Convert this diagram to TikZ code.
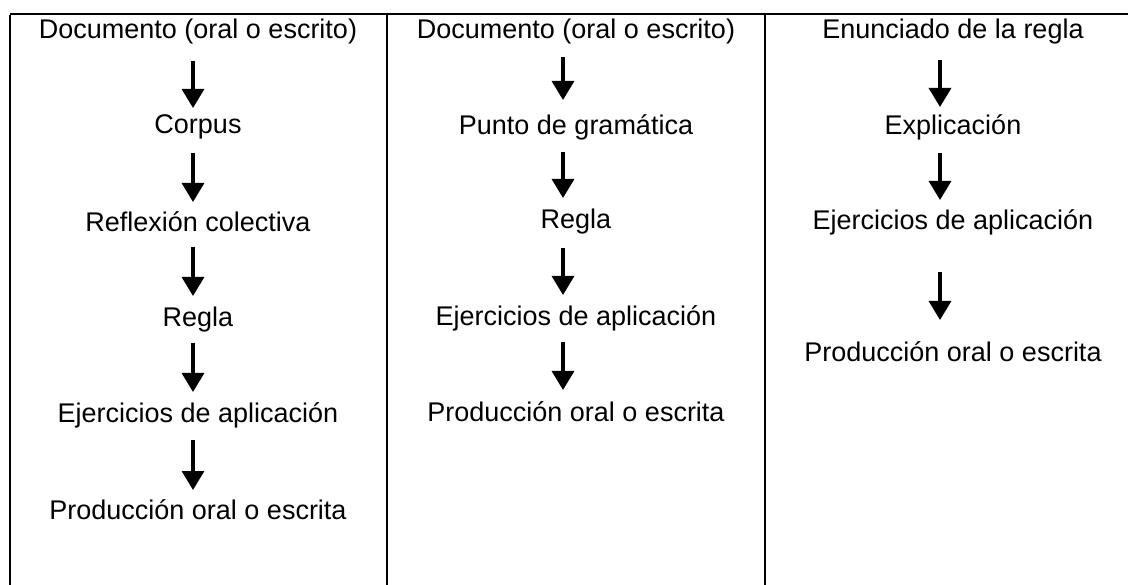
\documentclass[tikz,border=0pt]{standalone}
\usepackage{fontspec}
\setmainfont{Liberation Sans}
\usetikzlibrary{arrows.meta,calc}
\begin{document}
\begin{tikzpicture}[x=1pt,y=-1pt,
  lbl/.style={inner sep=0pt,anchor=center,font=\fontsize{27}{32}\selectfont},
  arr/.style={line width=3.2pt,-{Triangle[width=22pt,length=19pt]}},
  rule/.style={line width=2.6pt}]
\useasboundingbox (0,0) rectangle (1128,585);
% table rules
\coordinate (tl) at (10,14);
\coordinate (tr) at (1130,14);
\coordinate (s1) at (387,14);
\coordinate (s2) at (765,14);
\coordinate (bl) at (10,586);
\coordinate (b1) at (387,586);
\coordinate (b2) at (765,586);
\draw[rule] (tl) -- (tr);
\draw[rule] ([yshift=-1.3pt]tl) -- (bl);
\draw[rule] (s1) -- (b1);
\draw[rule] (s2) -- (b2);
% column 1
\node[lbl] (a1) at (198,32) {Documento (oral o escrito)};
\node[lbl] (a2) at (198,127) {Corpus};
\node[lbl] (a3) at (198,222) {Reflexión colectiva};
\node[lbl] (a4) at (198,320) {Regla};
\node[lbl] (a5) at (198,415) {Ejercicios de aplicación};
\node[lbl] (a6) at (198,510) {Producción oral o escrita};
\draw[arr] ($(a1)+(-5,29)$) -- ($(a2)+(-5,-19)$);
\draw[arr] ($(a2)+(-5,26)$) -- ($(a3)+(-5,-20)$);
\draw[arr] ($(a3)+(-5,25)$) -- ($(a4)+(-5,-24)$);
\draw[arr] ($(a4)+(-5,23)$) -- ($(a5)+(-5,-23)$);
\draw[arr] ($(a5)+(-5,25)$) -- ($(a6)+(-5,-20)$);
% column 2
\node[lbl] (b1n) at (576,32) {Documento (oral o escrito)};
\node[lbl] (b2n) at (576,127) {Punto de gramática};
\node[lbl] (b3n) at (576,222) {Regla};
\node[lbl] (b4n) at (576,318) {Ejercicios de aplicación};
\node[lbl] (b5n) at (576,412) {Producción oral o escrita};
\draw[arr] ($(b1n)+(-13,25)$) -- ($(b2n)+(-13,-27)$);
\draw[arr] ($(b2n)+(-13,25)$) -- ($(b3n)+(-13,-24)$);
\draw[arr] ($(b3n)+(-13,26)$) -- ($(b4n)+(-13,-23)$);
\draw[arr] ($(b4n)+(-13,24)$) -- ($(b5n)+(-13,-22)$);
% column 3
\node[lbl] (c1) at (953,32) {Enunciado de la regla};
\node[lbl] (c2) at (953,127) {Explicación};
\node[lbl] (c3) at (953,222) {Ejercicios de aplicación};
\node[lbl] (c4) at (953,352) {Producción oral o escrita};
\draw[arr] ($(c1)+(-13,28)$) -- ($(c2)+(-13,-20)$);
\draw[arr] ($(c2)+(-13,26)$) -- ($(c3)+(-13,-22)$);
\draw[arr] ($(c3)+(-13,50)$) -- ($(c4)+(-13,-32)$);
\end{tikzpicture}
\end{document}
